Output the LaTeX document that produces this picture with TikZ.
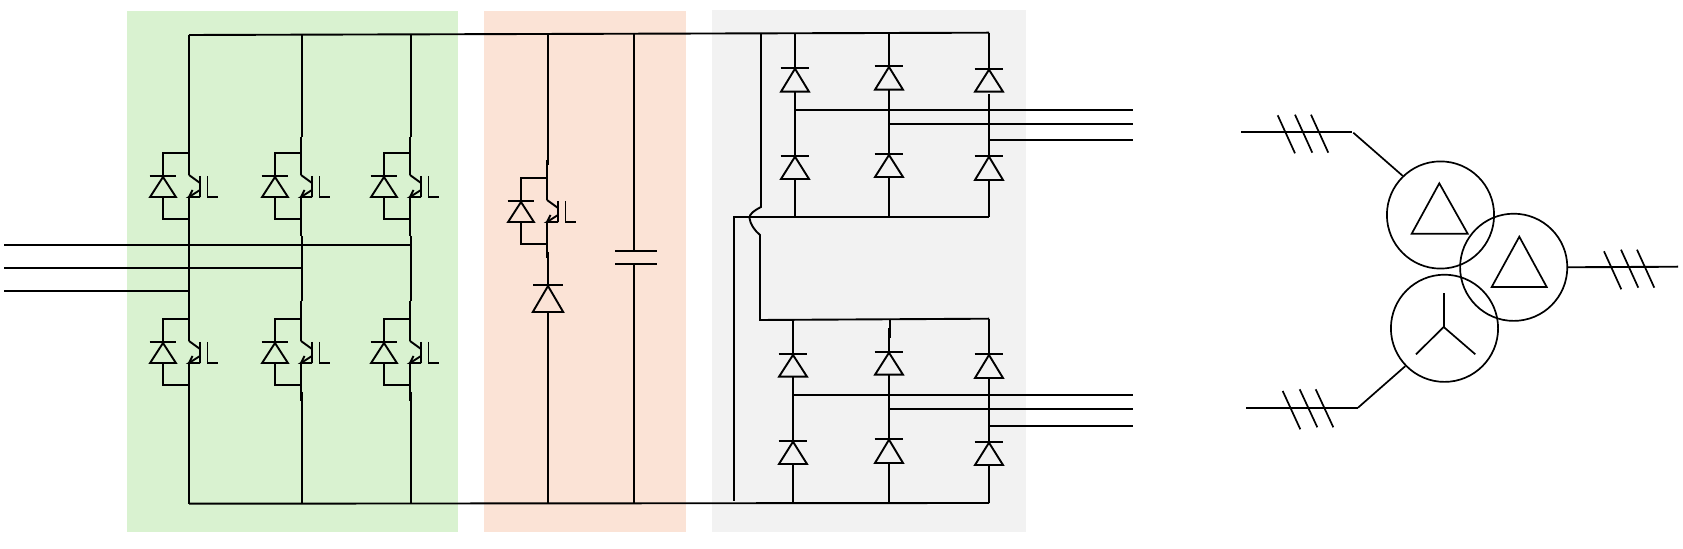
\documentclass[tikz,border=0pt]{standalone}
\definecolor{bggreen}{HTML}{D9F2D0}
\definecolor{bgorange}{HTML}{FBE3D6}
\definecolor{bggray}{HTML}{F2F2F2}
\tikzset{
  wire/.style={line width=.95pt,black},
  thinwire/.style={line width=.85pt,black},
  winding/.style={circle,draw=black,line width=.85pt,inner sep=0pt,minimum size=53.6pt},
}
% name, x, y of the cathode bar, y of the triangle base, half width of base, half width of bar
\newcommand{\mydiode}[6]{%
  \coordinate (#1-k) at (#2,#3);
  \coordinate (#1-a) at (#2,#4);
  \draw[wire] (#2-#6,#3)--(#2+#6,#3);
  \draw[wire] (#2,#3+1)--(#2-#5,#4)--(#2+#5,#4)--cycle;
}
% name, x of the leg, y of the upper branch
\newcommand{\myigbt}[3]{%
  \coordinate (#1-c) at (#2,#3+22);
  \coordinate (#1-e) at (#2,#3+44);
  \coordinate (#1-t) at (#2,#3);
  \coordinate (#1-b) at (#2,#3+66);
  \mydiode{#1-d}{#2-26}{#3+23}{#3+44}{12.9}{13.3}
  \draw[wire] (#1-t)-|(#1-d-k);
  \draw[wire] (#1-d-a)|-(#1-b);
  \draw[wire] (#1-c)--(#2+11,#3+30);
  \draw[wire] (#2+11,#3+37)--(#1-e)--(#2+11,#3+44);
  \draw[wire] (#1-e)--(#2+3.5,#3+37);
  \draw[wire] (#2+11,#3+23)--(#2+11,#3+44);
  \draw[wire] (#2+18.5,#3+23)--(#2+18.5,#3+44)--(#2+29,#3+44);
}
\begin{document}
\begin{tikzpicture}[x=.5pt,y=-.5pt]
\useasboundingbox (0,0) rectangle (1683,549);
\fill[bggreen] (127,11) rectangle (458,532);
\fill[bgorange] (484,11) rectangle (686,532);
\fill[bggray] (712,10) rectangle (1026,532);

% rails
\coordinate (TL) at (189,35);
\coordinate (TR) at (989,32.7);
\coordinate (BL) at (189,503.7);
\coordinate (BR) at (989,503);
\draw[wire] (TL)--(TR);
\draw[wire] (BL)--(BR);

% rectifier/inverter legs
\myigbt{ua}{189}{153}
\myigbt{ub}{301}{153}
\myigbt{uc}{410}{153}
\myigbt{la}{189}{319}
\myigbt{lb}{301}{319}
\myigbt{lc}{410}{319}

\coordinate (acA) at (411,245);
\coordinate (acB) at (302,268);
\coordinate (acC) at (189,290.7);
\draw[wire] (TL)--(ua-c);
\draw[wire] (ua-e)--(la-c);
\draw[wire] (la-e)--(BL);
\draw[wire] (302,34.7)--(302,137);
\draw[wire] (301,137)--(ub-c);
\draw[wire] (ub-e)--(301,236);
\draw[wire] (302,236)--(302,301);
\draw[wire] (301,301)--(lb-c);
\draw[wire] (lb-e)--(301,401);
\draw[wire] (302,392)--(302,503.6);
\draw[wire] (411,34.4)--(411,137);
\draw[wire] (410,137)--(uc-c);
\draw[wire] (uc-e)--(410,236);
\draw[wire] (411,236)--(411,301);
\draw[wire] (410,301)--(lc-c);
\draw[wire] (lc-e)--(410,401);
\draw[wire] (411,392)--(411,503.5);
\coordinate (inA) at (4,245);
\coordinate (inB) at (4,268);
\coordinate (inC) at (4,290.7);
\draw[wire] (inA)--(acA);
\draw[wire] (inB)--(acB);
\draw[wire] (inC)--(acC);

% chopper
\myigbt{ch}{547}{178}
\mydiode{chd}{548}{285}{312}{15.2}{14.8}
\draw[wire] (548,34)--(548,165);
\draw[wire] (547,160)--(ch-c);
\draw[wire] (ch-e)--(547,258);
\draw[wire] (548,252)--(chd-k);
\draw[wire] (chd-a)--(548,503.5);

% capacitor
\coordinate (capA) at (634,250.7);
\coordinate (capB) at (634,264);
\draw[wire] (615,250.7)--(656.5,250.7);
\draw[wire] (615,264)--(656.5,264);
\draw[wire] (634,33.8)--(capA);
\draw[wire] (capB)--(634,503.4);

% upper bridge
\mydiode{pa}{795}{67.7}{91.7}{14}{14.3}
\mydiode{pb}{889}{66}{89.7}{14}{14.3}
\mydiode{pc}{989}{68.7}{91.7}{14}{14.3}
\mydiode{qa}{795}{155.7}{179}{14}{14.3}
\mydiode{qb}{889}{154}{177}{14}{14.3}
\mydiode{qc}{989}{155.7}{180}{14}{14.3}
\coordinate (dcL) at (734,216.7);
\coordinate (dcR) at (989,216.7);
\draw[wire] (dcL)--(dcR);
\draw[wire] (795,33.3)--(pa-k);
\draw[wire] (889,33)--(pb-k);
\draw[wire] (TR)--(pc-k);
\draw[wire] (pa-a)--(qa-k);
\draw[wire] (pb-a)--(qb-k);
\draw[wire] (989,94)--(qc-k);
\draw[wire] (qa-a)--(795,216.7);
\draw[wire] (qb-a)--(889,216.7);
\draw[wire] (qc-a)--(dcR);
\coordinate (oa) at (1133,109.7);
\coordinate (ob) at (1133,124);
\coordinate (oc) at (1133,139.7);
\draw[wire] (795,109.7)--(oa);
\draw[wire] (889,124)--(ob);
\draw[wire] (989,139.7)--(oc);

% tie line with crossover
\coordinate (rTL) at (760,320);
\coordinate (rTR) at (989,318.7);
\draw[wire] (761,33.2)--(761,207) .. controls (755,210) and (749,214) .. (749.5,218) .. controls (750,224) and (755,231) .. (760,235)--(rTL)--(rTR);
\coordinate (dcB) at (734,500.7);
\draw[wire] (734,216.2)--(dcB);

% lower bridge
\mydiode{ra}{793}{354}{376.7}{14}{14.3}
\mydiode{rb}{889}{351.7}{374.7}{14}{14.3}
\mydiode{rc}{989}{354}{378}{14}{14.3}
\mydiode{sa}{793}{440.7}{464}{14}{14.3}
\mydiode{sb}{889}{438.7}{463}{14}{14.3}
\mydiode{sc}{989}{441.7}{465}{14}{14.3}
\draw[wire] (793,319.6)--(ra-k);
\draw[wire] (890,319)--(890,338);
\draw[wire] (889,328)--(rb-k);
\draw[wire] (rTR)--(rc-k);
\draw[wire] (ra-a)--(sa-k);
\draw[wire] (rb-a)--(sb-k);
\draw[wire] (rc-a)--(sc-k);
\draw[wire] (sa-a)--(793,503.3);
\draw[wire] (sb-a)--(889,503.2);
\draw[wire] (sc-a)--(BR);
\coordinate (oe) at (1132.5,394.7);
\coordinate (of) at (1133,408.7);
\coordinate (og) at (1133,426);
\draw[wire] (793,394.7)--(oe);
\draw[wire] (889,408.7)--(of);
\draw[wire] (989,426)--(og);

% transformer
\node[winding] (w1) at (1440.5,215) {};
\node[winding] (w2) at (1513.7,267.3) {};
\node[winding] (w3) at (1444.5,328.3) {};
\draw[thinwire] (1439.3,183.3)--(1411.7,233.7)--(1467.7,233.7)--cycle;
\draw[thinwire] (1519.3,236.7)--(1491.7,287)--(1546.7,287)--cycle;
\coordinate (star) at (1443.7,327);
\draw[thinwire] (star)--(1443.7,293.3);
\draw[thinwire] (star)--(1416,354.3);
\draw[thinwire] (star)--(1475.3,354.3);

\coordinate (ba) at (1241,132);
\coordinate (bb) at (1351.7,132);
\coordinate (bc) at (1353.3,132.7);
\draw[wire] (ba)--(bb);
\draw[thinwire] (bc)--(w1.134);
\draw[thinwire] (1277.7,115.3)--(1295,153.3);
\draw[thinwire] (1295,114.7)--(1312.3,152.7);
\draw[thinwire] (1311,114.7)--(1328.3,152.7);

\coordinate (bd) at (1678,266.7);
\draw[wire] (w2.east)--(bd);
\draw[thinwire] (1604,251.3)--(1621.3,289.3);
\draw[thinwire] (1621,249.7)--(1638.3,287.7);
\draw[thinwire] (1637,249.7)--(1654.3,287.7);

\coordinate (be) at (1246,407.7);
\coordinate (bf) at (1358,407.7);
\draw[wire] (be)--(bf);
\draw[thinwire] (bf)--(w3.224);
\draw[thinwire] (1282.7,391)--(1300.3,429.3);
\draw[thinwire] (1299.7,389.3)--(1317.3,427.3);
\draw[thinwire] (1315.7,389.3)--(1333.3,427.3);
\end{tikzpicture}
\end{document}
